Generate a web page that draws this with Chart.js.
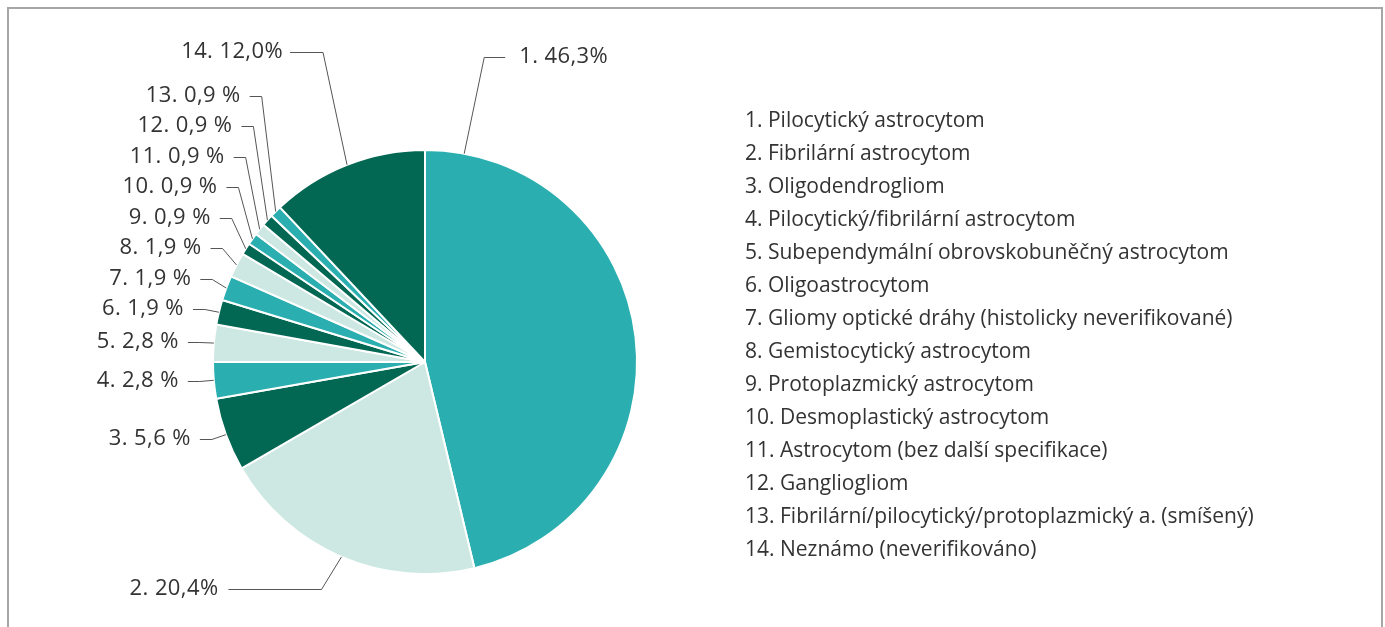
<!DOCTYPE html>
<html>
<head>
<meta charset="utf-8">
<script src="https://cdn.jsdelivr.net/npm/chart.js@4/dist/chart.umd.min.js"></script>
<style>
  html, body { margin: 0; padding: 0; background: #fff; }
  #wrap { position: relative; width: 1385px; height: 627px; overflow: hidden; }
  #frame { position: absolute; left: 7px; top: 7px; width: 1372px; height: 700px;
           border: 2px solid #a6a6a6; border-bottom: none; pointer-events: none; }
  canvas { position: absolute; left: 0; top: 0; }
</style>
</head>
<body>
<div id="wrap">
  <canvas id="myChart" width="1385" height="627"></canvas>
  <div id="frame"></div>
</div>
<script>
const categories = [
  "1. Pilocytický astrocytom",
  "2. Fibrilární astrocytom",
  "3. Oligodendrogliom",
  "4. Pilocytický/fibrilární astrocytom",
  "5. Subependymální obrovskobuněčný astrocytom",
  "6. Oligoastrocytom",
  "7. Gliomy optické dráhy (histolicky neverifikované)",
  "8. Gemistocytický astrocytom",
  "9. Protoplazmický astrocytom",
  "10. Desmoplastický astrocytom",
  "11. Astrocytom (bez další specifikace)",
  "12. Gangliogliom",
  "13. Fibrilární/pilocytický/protoplazmický a. (smíšený)",
  "14. Neznámo (neverifikováno)"
];
const values = [46.3, 20.4, 5.6, 2.8, 2.8, 1.9, 1.9, 1.9, 0.9, 0.9, 0.9, 0.9, 0.9, 12.0];
const valueLabels = [
  "1. 46,3%", "2. 20,4%", "3. 5,6 %", "4. 2,8 %", "5. 2,8 %", "6. 1,9 %", "7. 1,9 %",
  "8. 1,9 %", "9. 0,9 %", "10. 0,9 %", "11. 0,9 %", "12. 0,9 %", "13. 0,9 %", "14. 12,0%"
];

const TEAL = "#2aaeb0", LIGHT = "#cde8e2", DARK = "#026753";
const sliceColors = [TEAL, LIGHT, DARK, TEAL, LIGHT, DARK, TEAL, LIGHT, DARK, TEAL, LIGHT, DARK, TEAL, DARK];

const LEGEND_FONT = '21px "Open Sans"';
const LABEL_FONT = '22px "Open Sans"';
const TEXT_COLOR = "#333333";
const LINE_COLOR = "#555555";

// hand placed leaders for the big slices, the small ones get stacked on the left
const leaderOverrides = {
  0: { frac: 0.064, lift: -1.44, dx: 20, len: 21, gap: 14 },
  1: { frac: 0.5, lift: 1.07, dx: -20, len: 93, gap: 10 },
  13: { frac: 0.5, lift: -1.46, dx: -24, len: 33, gap: 7 }
};

const leaderLabels = {
  id: "leaderLabels",
  afterDraw(chart) {
    const ctx = chart.ctx;
    const arcs = chart.getDatasetMeta(0).data;
    ctx.save();
    ctx.font = LABEL_FONT;
    ctx.letterSpacing = "0.4px";
    ctx.fillStyle = TEXT_COLOR;
    ctx.strokeStyle = LINE_COLOR;
    ctx.lineWidth = 1;
    ctx.textBaseline = "middle";

    let prevY = Infinity;
    arcs.forEach((arc, i) => {
      const p = arc.getProps(["x", "y", "startAngle", "endAngle", "outerRadius"], true);
      const o = leaderOverrides[i];
      const frac = o ? o.frac : 0.5;
      const a = p.startAngle + frac * (p.endAngle - p.startAngle);
      const ax = p.x + Math.cos(a) * p.outerRadius;
      const ay = p.y + Math.sin(a) * p.outerRadius;
      let ex, ey, hx, tx, align;
      if (o) {
        ex = ax + o.dx;
        ey = p.y + o.lift * p.outerRadius;
        const dir = o.dx > 0 ? 1 : -1;
        hx = ex + dir * o.len;
        tx = hx + dir * o.gap;
        align = dir > 0 ? "left" : "right";
      } else {
        ey = Math.min(ay + 12 * Math.sin(a), prevY - 30.5);
        prevY = ey;
        ex = ax - 14;
        hx = ex - 12;
        tx = hx - 9;
        align = "right";
      }
      ey = Math.round(ey) + 0.5;
      ctx.beginPath();
      ctx.moveTo(ax, ay);
      ctx.lineTo(ex, ey);
      ctx.lineTo(hx, ey);
      ctx.stroke();
      ctx.textAlign = align;
      ctx.fillText(valueLabels[i], tx, ey - 1);
    });

    // legend, text only
    ctx.font = LEGEND_FONT;
    ctx.letterSpacing = "0px";
    ctx.textAlign = "left";
    categories.forEach((c, i) => {
      ctx.fillText(c, 745, 121 + i * 33);
    });
    ctx.restore();
  }
};

const ctx = document.getElementById("myChart").getContext("2d");
const myChart = new Chart(ctx, {
  type: "pie",
  data: {
    labels: categories,
    datasets: [{
      data: values,
      backgroundColor: sliceColors,
      borderColor: "#ffffff",
      borderWidth: 2
    }]
  },
  options: {
    responsive: false,
    animation: false,
    events: [],
    layout: { padding: { left: 212, right: 747, top: 149, bottom: 52 } },
    plugins: {
      legend: { display: false },
      tooltip: { enabled: false }
    }
  },
  plugins: [leaderLabels]
});
</script>
</body>
</html>
